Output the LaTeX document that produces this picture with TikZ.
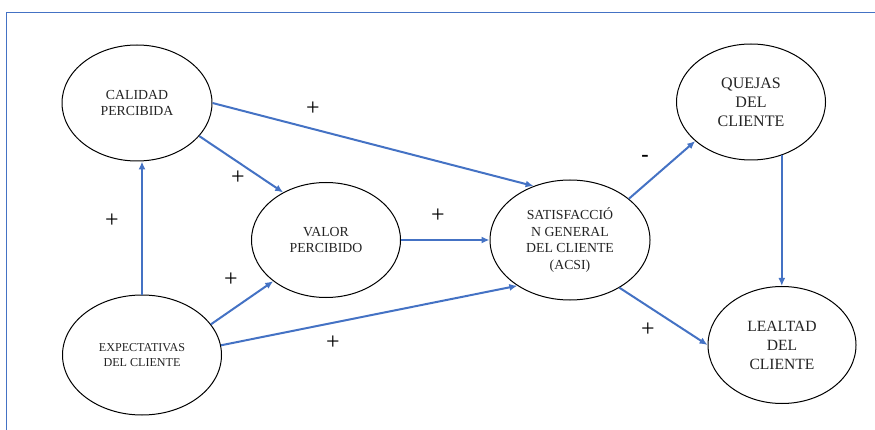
\documentclass[tikz,border=0pt]{standalone}
\usepackage{fontspec}
\setmainfont{Liberation Serif}
\usetikzlibrary{shapes.geometric,arrows.meta}
\definecolor{linkblue}{RGB}{68,114,196}
\definecolor{inkgray}{RGB}{35,35,35}
\tikzset{
  factor/.style={ellipse, draw=black, line width=1pt, inner sep=0pt,
    text=inkgray, align=center, font=\fontsize{13.8}{16.5}\selectfont},
  link/.style={draw=linkblue, line width=2pt,
    -{Latex[length=8pt,width=7pt]}},
  sign/.style={text=black, font=\fontsize{24}{24}\selectfont, inner sep=0pt},
}
\begin{document}
\begin{tikzpicture}[x=1pt,y=-1pt]
  \useasboundingbox (0,0) rectangle (875,430);
  % page frame
  \draw[linkblue, line width=0.9pt] (875,12) -- (6,12) -- (6,430);

  % factors of the model
  \node[factor, minimum width=150pt, minimum height=116pt] (cal) at (137,103)
    {CALIDAD\\PERCIBIDA};
  \node[factor, minimum width=159pt, minimum height=120pt,
        font=\fontsize{12.1}{15.5}\selectfont] (exp) at (142,355)
    {EXPECTATIVAS\\DEL CLIENTE};
  \node[factor, minimum width=149pt, minimum height=115pt] (val) at (326,240)
    {VALOR\\PERCIBIDO};
  \node[factor, minimum width=160pt, minimum height=120pt] (sat) at (570,240)
    {SATISFACCIÓ\\N GENERAL\\DEL CLIENTE\\(ACSI)};
  \node[factor, minimum width=149pt, minimum height=116pt,
        font=\fontsize{16}{19}\selectfont] (que) at (751,102)
    {QUEJAS\\DEL\\CLIENTE};
  \node[factor, minimum width=148pt, minimum height=117pt,
        font=\fontsize{15.6}{19}\selectfont] (lea) at (782,345)
    {LEALTAD\\DEL\\CLIENTE};

  % causal links
  \draw[link] (cal.0) -- (sat.124);
  \draw[link] (cal.-28) -- (val.132);
  \draw[link] (exp.north) -- (exp.north |- cal.south);
  \draw[link] (exp.24) -- (val.218);
  \draw[link] (exp.7) -- (sat.221);
  \draw[link] (val.east) -- (sat.west);
  \draw[link] (sat.35) -- (que.215);
  \draw[link] (que.-60) -- (que.-60 |- lea.north);
  \draw[link] (sat.-44) -- (lea.west);

  % signs of the links
  \node[sign] (s1) at (313,109) {+};
  \node[sign] (s2) at (238,178) {+};
  \node[sign] (s3) at (112,221) {+};
  \node[sign] (s4) at (231,280) {+};
  \node[sign] (s5) at (333,343) {+};
  \node[sign] (s6) at (438,216) {+};
  \node[sign, font=\bfseries\fontsize{22}{22}\selectfont] (s7) at (645,158) {-};
  \node[sign] (s8) at (648,330) {+};
\end{tikzpicture}
\end{document}
